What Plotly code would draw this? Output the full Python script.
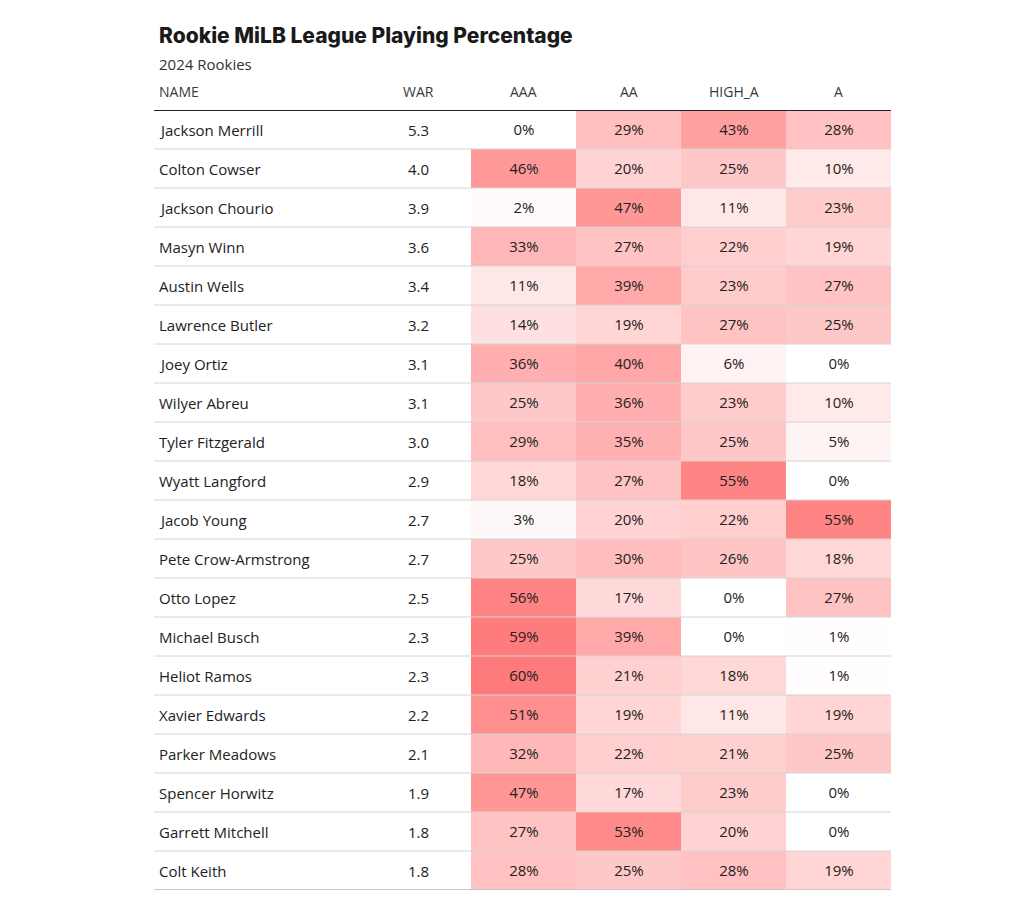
import plotly.graph_objects as go

names = ["Jackson Merrill", "Colton Cowser", "Jackson Chourio", "Masyn Winn", "Austin Wells",
         "Lawrence Butler", "Joey Ortiz", "Wilyer Abreu", "Tyler Fitzgerald", "Wyatt Langford",
         "Jacob Young", "Pete Crow-Armstrong", "Otto Lopez", "Michael Busch", "Heliot Ramos",
         "Xavier Edwards", "Parker Meadows", "Spencer Horwitz", "Garrett Mitchell", "Colt Keith"]
war = [5.3, 4.0, 3.9, 3.6, 3.4, 3.2, 3.1, 3.1, 3.0, 2.9, 2.7, 2.7, 2.5, 2.3, 2.3, 2.2, 2.1, 1.9, 1.8, 1.8]
aaa = [0, 46, 2, 33, 11, 14, 36, 25, 29, 18, 3, 25, 56, 59, 60, 51, 32, 47, 27, 28]
aa = [29, 20, 47, 27, 39, 19, 40, 36, 35, 27, 20, 30, 17, 39, 21, 19, 22, 17, 53, 25]
high_a = [43, 25, 11, 22, 23, 27, 6, 23, 25, 55, 22, 26, 0, 0, 18, 11, 21, 23, 20, 28]
a = [28, 10, 23, 19, 27, 25, 0, 10, 5, 0, 55, 18, 27, 1, 1, 19, 25, 0, 0, 19]
pct_columns = ["AAA", "AA", "HIGH_A", "A"]
title = "Rookie MiLB League Playing Percentage"
subtitle = "2024 Rookies"

OFF = 8  # page body margin
W, H = 1024 - 2 * OFF, 910 - 2 * OFF
L, T = 154 - OFF, 110 - OFF
PW, PH = 737, 780
R, B = W - L - PW, H - T - PH
col_px = 105.0
name_left = -(471 - 154) / col_px  # data x of table left edge

rows = list(range(len(names)))
z = [[aaa[i], aa[i], high_a[i], a[i]] for i in rows]

body_font = dict(family="Open Sans", size=15, color="#222222")

fig = go.Figure()
fig.add_trace(go.Heatmap(
    z=z, x=[0, 1, 2, 3, 4], y=rows,
    zmin=0, zmax=60,
    colorscale=[[0, "rgb(255,255,255)"], [1, "rgb(255,122,122)"]],
    showscale=False,
    texttemplate="%{z}%",
    textfont=body_font,
    hoverinfo="skip",
))

# name and WAR columns as text anchored on the same data axes
for i in rows:
    fig.add_annotation(x=name_left + 3 / col_px, y=i, xref="x", yref="y", text=names[i],
                       showarrow=False, xanchor="left", yanchor="middle", font=body_font)
    fig.add_annotation(x=-0.5, y=i, xref="x", yref="y", text=f"{war[i]:.1f}",
                       showarrow=False, xanchor="center", yanchor="middle", font=body_font)

# header labels
hdr_y = 1 + (110 - 91) / PH
hdr_font = dict(family="Open Sans", size=14, color="#3a3a3a")
fig.add_annotation(x=name_left + 3 / col_px, y=hdr_y, xref="x", yref="paper", text="NAME",
                   showarrow=False, xanchor="left", yanchor="middle", font=hdr_font)
fig.add_annotation(x=-0.5, y=hdr_y, xref="x", yref="paper", text="WAR",
                   showarrow=False, xanchor="center", yanchor="middle", font=hdr_font)
for j, c in enumerate(pct_columns):
    fig.add_annotation(x=j + 0.5, y=hdr_y, xref="x", yref="paper", text=c,
                       showarrow=False, xanchor="center", yanchor="middle", font=hdr_font)

# row separators
for i in rows[:-1]:
    fig.add_shape(type="line", xref="paper", yref="y", x0=0, x1=1, y0=i + 0.5, y1=i + 0.5,
                  line=dict(color="#d4d4d4", width=1))
fig.add_shape(type="line", xref="paper", yref="y", x0=0, x1=1, y0=len(names) - 0.5, y1=len(names) - 0.5,
              line=dict(color="#c8c8c8", width=2))
fig.add_shape(type="line", xref="paper", yref="y", x0=0, x1=1, y0=-0.5, y1=-0.5,
              line=dict(color="#222222", width=2))

# title / subtitle
fig.add_annotation(x=3 / PW, y=1 + (110 - 36) / PH, xref="paper", yref="paper",
                   text=title, showarrow=False, xanchor="left", yanchor="middle",
                   font=dict(family="Inter", size=21, weight=800, color="#1a1a1a"))
fig.add_annotation(x=3 / PW, y=1 + (110 - 64) / PH, xref="paper", yref="paper",
                   text=subtitle, showarrow=False, xanchor="left", yanchor="middle",
                   font=dict(family="Open Sans", size=15, color="#333333"))

fig.update_layout(
    width=W, height=H,
    margin=dict(l=L, r=R, t=T, b=B),
    paper_bgcolor="white", plot_bgcolor="white",
    xaxis=dict(range=[name_left, 4], visible=False, fixedrange=True),
    yaxis=dict(range=[len(names) - 0.5, -0.5], visible=False, fixedrange=True),
    showlegend=False,
)
fig.write_html("out.html")
